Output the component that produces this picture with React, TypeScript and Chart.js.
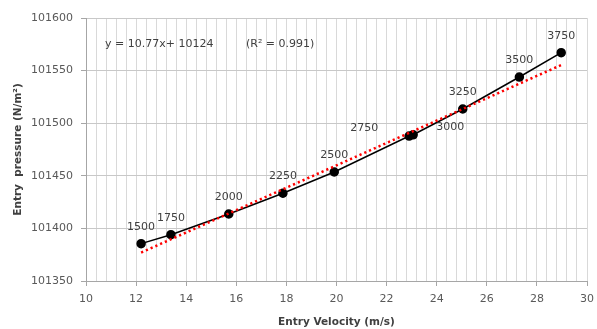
import React, { useEffect, useRef } from "react";
import { Chart, registerables } from "chart.js";

Chart.register(...registerables);

const pointLabels = ["1500", "1750", "2000", "2250", "2500", "2750", "3000", "3250", "3500", "3750"];
const velocity = [12.2, 13.39, 15.7, 17.86, 19.91, 22.9, 23.06, 25.04, 27.3, 28.97];
const pressure = [101385.5, 101394, 101413.7, 101433.4, 101453.6, 101487.8, 101489, 101513.5, 101543.9, 101567];
const trendX = [12.2, 28.97];
const trendY = [101377, 101555.3];
const xMin = 10, xMax = 30, xStep = 0.4, xLabelStep = 2;
const yMin = 101350, yMax = 101600, yStep = 50;
const equationText = "y = 10.77x+ 10124";
const r2Text = "(R\u00b2 = 0.991)";
const xTitle = "Entry Velocity (m/s)";
const yTitle = "Entry  pressure (N/m\u00b2)";

const FONT = "'DejaVu Sans', sans-serif";

const labelOffsets: Record<number, [number, number]> = {
  5: [-45, -8],
  6: [37, -8],
};

const annotationPlugin = {
  id: "annot",
  afterDatasetsDraw(chart: any) {
    const ctx = chart.ctx;
    const meta = chart.getDatasetMeta(1);
    ctx.save();
    ctx.font = `11px ${FONT}`;
    ctx.fillStyle = "#404040";
    ctx.textAlign = "center";
    ctx.textBaseline = "middle";
    meta.data.forEach((pt: any, i: number) => {
      const off = labelOffsets[i] || [0, -17];
      ctx.fillText(pointLabels[i], pt.x + off[0], pt.y + off[1]);
    });
    const area = chart.chartArea;
    ctx.textAlign = "left";
    ctx.fillText(equationText, area.left + 19, area.top + 26);
    ctx.fillText(r2Text, area.left + 160, area.top + 26);
    ctx.restore();
  },
};

export default function App() {
  const ref = useRef<HTMLCanvasElement | null>(null);
  useEffect(() => {
    if (!ref.current) return;
    const isMajor = (v: number) => Math.abs(v / xLabelStep - Math.round(v / xLabelStep)) < 1e-6;
    const chart = new Chart(ref.current, {
      type: "scatter",
      data: {
        datasets: [
          {
            label: "trend",
            data: trendX.map((x, i) => ({ x, y: trendY[i] })),
            showLine: true,
            borderColor: "#ff0000",
            borderWidth: 2.5,
            borderDash: [2.2, 3],
            pointRadius: 0,
            fill: false,
          },
          {
            label: "data",
            data: velocity.map((x, i) => ({ x, y: pressure[i] })),
            showLine: true,
            borderColor: "#000000",
            borderWidth: 1.5,
            pointRadius: 4,
            pointBackgroundColor: "#000000",
            pointBorderColor: "#000000",
            fill: false,
          },
        ],
      },
      options: {
        animation: false,
        responsive: false,
        devicePixelRatio: 1,
        layout: { padding: { left: 0, right: 10, top: 18, bottom: 0 } },
        plugins: { legend: { display: false }, tooltip: { enabled: false } },
        scales: {
          x: {
            type: "linear",
            min: xMin,
            max: xMax,
            afterFit: (s: any) => { s.height = 48; s.paddingLeft = 0; s.paddingRight = 0; },
            border: { color: "#a6a6a6", width: 1 },
            grid: {
              color: "#d9d9d9",
              tickLength: 5,
              tickColor: (c: any) => (c.tick && isMajor(c.tick.value) ? "#a6a6a6" : "rgba(0,0,0,0)"),
            },
            ticks: {
              stepSize: xStep,
              autoSkip: false,
              maxRotation: 0,
              padding: 7,
              color: "#595959",
              font: { family: FONT, size: 11 },
              callback: (v: any) => (isMajor(Number(v)) ? String(Math.round(Number(v))) : ""),
            },
            title: {
              display: true,
              text: xTitle,
              color: "#404040",
              padding: { top: 0, bottom: 0 },
              font: { family: FONT, size: 10.5, weight: "bold" },
            },
          },
          y: {
            type: "linear",
            min: yMin,
            max: yMax,
            afterFit: (s: any) => { s.width = 86; s.paddingTop = 0; s.paddingBottom = 0; },
            border: { color: "#a6a6a6", width: 1 },
            grid: { color: "#c8c8c8", tickLength: 5, tickColor: "#a6a6a6" },
            ticks: {
              stepSize: yStep,
              padding: 8,
              color: "#595959",
              font: { family: FONT, size: 11 },
              callback: (v: any) => String(v),
            },
            title: {
              display: true,
              text: yTitle,
              color: "#404040",
              padding: { top: 12, bottom: 0 },
              font: { family: FONT, size: 10.5, weight: "bold" },
            },
          },
        },
      },
      plugins: [annotationPlugin],
    } as any);
    return () => chart.destroy();
  }, []);
  return (
    <div style={{ position: "fixed", left: 0, top: 0, width: 597, height: 329, background: "#fff" }}>
      <canvas ref={ref} width={597} height={329} />
    </div>
  );
}
